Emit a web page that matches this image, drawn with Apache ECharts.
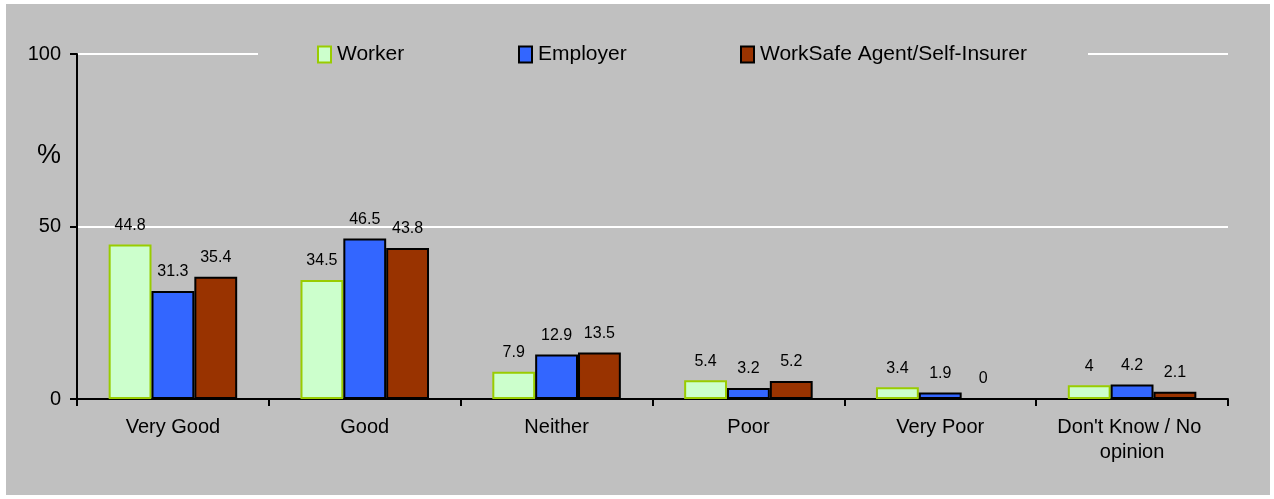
<!DOCTYPE html>
<html>
<head>
<meta charset="utf-8">
<script src="https://cdn.jsdelivr.net/npm/echarts@6/dist/echarts.min.js"></script>
<style>
  html, body { margin: 0; padding: 0; background: #fff; }
  #main { position: absolute; left: 6px; top: 4px; width: 1264px; height: 491px; background: #c0c0c0; }
</style>
</head>
<body>
<div id="main"></div>
<script>
// 分类和数据
const categories = ["Very Good", "Good", "Neither", "Poor", "Very Poor", "Don't Know / No opinion"];
const worker = [44.8, 34.5, 7.9, 5.4, 3.4, 4];
const employer = [31.3, 46.5, 12.9, 3.2, 1.9, 4.2];
const agent = [35.4, 43.8, 13.5, 5.2, 0, 2.1];
const yTicks = [0, 50, 100];

const myChart = echarts.init(document.getElementById("main"));

const font = "Liberation Sans, Arial, sans-serif";

// 柱子上的数字
const barLabel = {
  show: true,
  position: "top",
  distance: 11,
  color: "#000",
  fontSize: 16,
  fontFamily: font
};

function legendAt(name, left) {
  return {
    data: [name],
    left: left,
    top: 40,
    padding: 0,
    z: 10,
    itemWidth: 13,
    itemHeight: 16,
    itemGap: 0,
    icon: "rect",
    selectedMode: false,
    textStyle: { color: "#000", fontSize: 21, fontFamily: font, padding: [0, 0, 0, 1] }
  };
}

const option = {
  animation: false,
  backgroundColor: "#c0c0c0",
  title: {
    text: "%",
    left: 26,
    top: 133,
    textStyle: { color: "#000", fontSize: 27, fontWeight: "normal", fontFamily: font }
  },
  legend: [
    legendAt("Worker", 311),
    legendAt("Employer", 512),
    legendAt("WorkSafe Agent/Self-Insurer", 734)
  ],
  // 图例后面挡住网格线的灰块
  graphic: [
    {
      type: "rect",
      z: 5,
      shape: { x: 252, y: 44, width: 830, height: 12 },
      style: { fill: "#c0c0c0" }
    }
  ],
  grid: { left: 71, right: 42, top: 50, bottom: 96 },
  xAxis: {
    type: "category",
    data: categories,
    axisLine: { lineStyle: { color: "#000", width: 2 } },
    axisTick: { show: true, length: 7, lineStyle: { color: "#000", width: 2 } },
    axisLabel: {
      interval: 0,
      margin: 16,
      color: "#000",
      fontSize: 20,
      fontFamily: font,
      width: 175,
      overflow: "break",
      lineHeight: 25
    }
  },
  yAxis: {
    type: "value",
    min: yTicks[0],
    max: yTicks[yTicks.length - 1],
    interval: 50,
    axisLine: { show: true, lineStyle: { color: "#000", width: 2 } },
    axisTick: { show: true, length: 7, lineStyle: { color: "#000", width: 2 } },
    axisLabel: { margin: 16, color: "#000", fontSize: 20, fontFamily: font },
    splitLine: { show: true, lineStyle: { color: "#fff", width: 2 } }
  },
  series: [
    {
      name: "Worker",
      type: "bar",
      data: worker,
      barGap: "0%",
      barCategoryGap: "33%",
      itemStyle: { color: "#ccffcc", borderColor: "#99cc00", borderWidth: 2 },
      label: barLabel
    },
    {
      name: "Employer",
      type: "bar",
      data: employer,
      itemStyle: { color: "#3366ff", borderColor: "#000", borderWidth: 2 },
      label: barLabel
    },
    {
      name: "WorkSafe Agent/Self-Insurer",
      type: "bar",
      data: agent,
      itemStyle: { color: "#993300", borderColor: "#000", borderWidth: 2 },
      label: barLabel
    }
  ]
};

myChart.setOption(option);
</script>
</body>
</html>
